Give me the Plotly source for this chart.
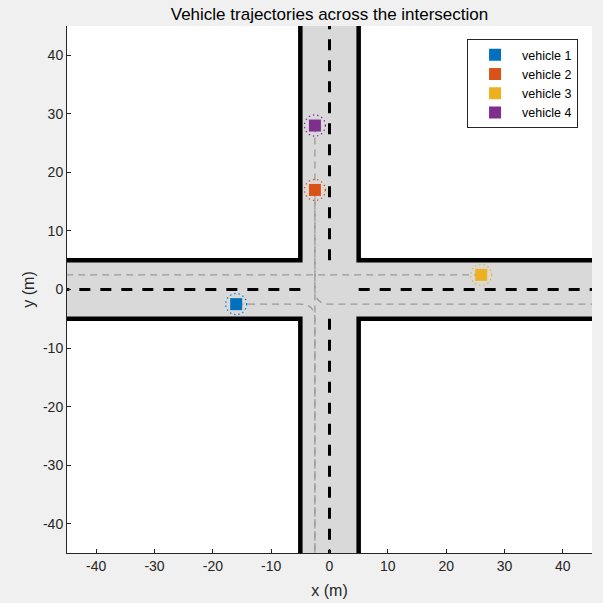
import plotly.graph_objects as go

# ---------------- data ----------------
vehicle_names = ["vehicle 1", "vehicle 2", "vehicle 3", "vehicle 4"]
vehicle_x = [-16, -2.5, 26, -2.5]
vehicle_y = [-2.5, 17, 2.5, 28]
vehicle_colors = ["#0072BD", "#D95319", "#EDB120", "#7E2F8E"]
safety_radius = 1.8

# planned paths: waypoint lists; "Q" entries are quadratic-turn control/end pairs
path_v1 = [("M", -16, -2.5), ("L", -5, -2.5), ("Q", -2.5, -2.5, -2.5, -5), ("L", -2.5, -45)]
path_v2 = [("M", -2.5, 17), ("L", -2.5, 0), ("Q", -2.5, -2.5, 0, -2.5), ("L", 45, -2.5)]
path_v3 = [("M", 26, 2.5), ("L", -45, 2.5)]
path_v4 = [("M", -2.5, 28), ("L", -2.5, -45)]
paths = [path_v1, path_v2, path_v3, path_v4]

# road geometry
road_half_width = 5
axis_limit = 45
tick_values = [-40, -30, -20, -10, 0, 10, 20, 30, 40]
tick_labels = ["-40", "-30", "-20", "-10", "0", "10", "20", "30", "40"]

FONT = "Liberation Sans, Arial, Helvetica, sans-serif"
TXT = "#262626"

fig = go.Figure()

hw, L = road_half_width, axis_limit
# road surface
fig.add_shape(type="rect", x0=-L, x1=L, y0=-hw, y1=hw, fillcolor="#d9d9d9",
              line_width=0, layer="below")
fig.add_shape(type="rect", x0=-hw, x1=hw, y0=-L, y1=L, fillcolor="#d9d9d9",
              line_width=0, layer="below")

# road edges (black, thick)
for sx in (-1, 1):
    for sy in (-1, 1):
        fig.add_trace(go.Scatter(
            x=[sx * hw, sx * hw, sx * L], y=[sy * L, sy * hw, sy * hw],
            mode="lines", line=dict(color="black", width=4.5),
            hoverinfo="skip", showlegend=False))

# centre lines (black dashed), outside the intersection box
for s in (-1, 1):
    fig.add_trace(go.Scatter(x=[0, 0], y=[s * hw, s * L], mode="lines",
                             line=dict(color="black", width=3, dash="11px,10px"),
                             hoverinfo="skip", showlegend=False))
    fig.add_trace(go.Scatter(x=[s * hw, s * L], y=[0, 0], mode="lines",
                             line=dict(color="black", width=3, dash="11px,10px"),
                             hoverinfo="skip", showlegend=False))

# planned paths (gray dashed)
def to_svg(p):
    parts = []
    for seg in p:
        if seg[0] == "Q":
            parts.append(f"Q {seg[1]},{seg[2]} {seg[3]},{seg[4]}")
        else:
            parts.append(f"{seg[0]} {seg[1]},{seg[2]}")
    return " ".join(parts)

for p in paths:
    fig.add_shape(type="path", path=to_svg(p), xref="x", yref="y", layer="below",
                  line=dict(color="#999999", width=1.3, dash="7px,5px"))

# safety circles (dotted)
for x, y, c in zip(vehicle_x, vehicle_y, vehicle_colors):
    fig.add_shape(type="circle", xref="x", yref="y",
                  x0=x - safety_radius, x1=x + safety_radius,
                  y0=y - safety_radius, y1=y + safety_radius,
                  line=dict(color=c, width=1.3, dash="1.3px,3px"))

# vehicles
for n, x, y, c in zip(vehicle_names, vehicle_x, vehicle_y, vehicle_colors):
    fig.add_trace(go.Scatter(x=[x], y=[y], mode="markers", name=n,
                             marker=dict(symbol="square", size=12, color=c,
                                         line=dict(width=0))))

axis_common = dict(range=[-L, L], tickvals=tick_values, ticktext=tick_labels,
                   showgrid=False,
                   zeroline=False, showline=True, linecolor=TXT, linewidth=1,
                   ticks="inside", ticklen=4, tickcolor=TXT, automargin=False,
                   tickfont=dict(family=FONT, size=14, color=TXT))

fig.update_layout(
    width=603, height=603,
    margin=dict(l=67, r=11, t=26, b=50, autoexpand=False),
    paper_bgcolor="#f0f0f0", plot_bgcolor="white",
    title=dict(text="Vehicle trajectories across the intersection",
               x=0.5, xref="paper", xanchor="center",
               y=1 - 14 / 603, yref="container", yanchor="middle",
               font=dict(family=FONT, size=17, color="black")),
    xaxis=dict(**axis_common, title=dict(text="x (m)", standoff=12,
                                         font=dict(family=FONT, size=16, color=TXT))),
    yaxis=dict(**axis_common, title=dict(text="y (m)", standoff=4,
                                         font=dict(family=FONT, size=16, color=TXT))),
    legend=dict(x=0.762, y=0.975, xanchor="left", yanchor="top",
                bgcolor="white", bordercolor=TXT, borderwidth=1,
                font=dict(family=FONT, size=12.5, color="black"),
                tracegroupgap=0, itemwidth=44),
    showlegend=True,
)

fig.write_html("out.html",
               config={"displayModeBar": False},
               post_script="document.body.style.margin='0';"
                           "document.body.style.background='#f0f0f0';")
